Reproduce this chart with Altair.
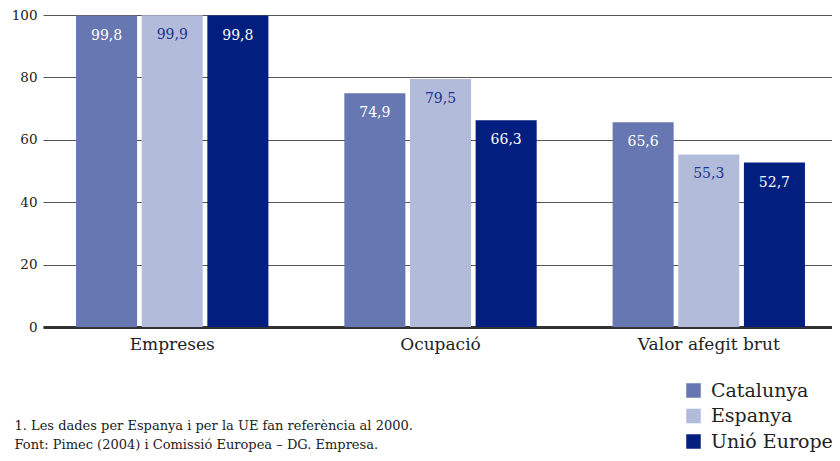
import altair as alt
import pandas as pd

categories = ["Empreses", "Ocupació", "Valor afegit brut"]
series = ["Catalunya", "Espanya", "Unió Europea"]
catalunya = [99.8, 74.9, 65.6]
espanya = [99.9, 79.5, 55.3]
unio_europea = [99.8, 66.3, 52.7]
y_ticks = [0, 20, 40, 60, 80, 100]
footnotes = [
    "1. Les dades per Espanya i per la UE fan referència al 2000.",
    "Font: Pimec (2004) i Comissió Europea – DG. Empresa.",
]

rows = []
for s, vals in zip(series, [catalunya, espanya, unio_europea]):
    for c, v in zip(categories, vals):
        rows.append({"Categoria": c, "Serie": s, "Valor": v,
                     "Etiqueta": f"{v:.1f}".replace(".", ",")})
df = pd.DataFrame(rows)

SERIF = "DejaVu Serif"
colors = ["#6777b2", "#b2bcda", "#021e7e"]

x = alt.X("Categoria:N", sort=categories,
          scale=alt.Scale(paddingInner=0.283, paddingOuter=0.112, align=0.55),
          axis=alt.Axis(labelAngle=0, ticks=False, domain=True, domainWidth=3,
                        domainColor="#333333", labelFont=SERIF, labelFontSize=17,
                        labelColor="#222222", labelPadding=9, grid=False,
                        title=footnotes, titleX=-29, titleY=102,
                        titleAlign="left", titleBaseline="alphabetic",
                        titleFont=SERIF, titleFontSize=13,
                        titleFontWeight="normal", titleColor="#222222",
                        titleLineHeight=19))
xoff = alt.XOffset("Serie:N", sort=series, scale=alt.Scale(paddingInner=0.07))
y = alt.Y("Valor:Q", scale=alt.Scale(domain=[0, 100], nice=False),
          axis=alt.Axis(values=y_ticks, grid=True, gridColor="#555555",
                        gridWidth=1, domain=False, ticks=False, labelPadding=6,
                        labelFont=SERIF, labelFontSize=13.5,
                        labelColor="#222222", title=None))

bars = alt.Chart(df).mark_bar().encode(
    x=x, xOffset=xoff, y=y,
    color=alt.Color("Serie:N", sort=series,
                    scale=alt.Scale(domain=series, range=colors),
                    legend=alt.Legend(orient="none", legendX=641, legendY=366,
                                      title=None, symbolType="square",
                                      symbolSize=210, symbolStrokeWidth=0,
                                      labelFont=SERIF, labelFontSize=19,
                                      labelColor="#222222", rowPadding=5.5,
                                      labelOffset=8, padding=0, labelLimit=300)),
)

labels = alt.Chart(df).mark_text(baseline="middle", dy=20, font=SERIF,
                                 fontSize=14).encode(
    x=alt.X("Categoria:N", sort=categories),
    xOffset=alt.XOffset("Serie:N", sort=series),
    y="Valor:Q",
    text="Etiqueta:N",
    color=alt.condition(alt.datum.Serie == "Espanya",
                        alt.value("#1b3591"), alt.value("#ffffff")),
)

chart = alt.layer(bars, labels).properties(
    width=789, height=312,
    autosize=alt.AutoSizeParams(type="none"),
    padding={"left": 35, "top": 7, "right": 0, "bottom": 126},
).configure_view(stroke=None)

chart.save("out.html", embed_options={"renderer": "svg", "actions": False})
